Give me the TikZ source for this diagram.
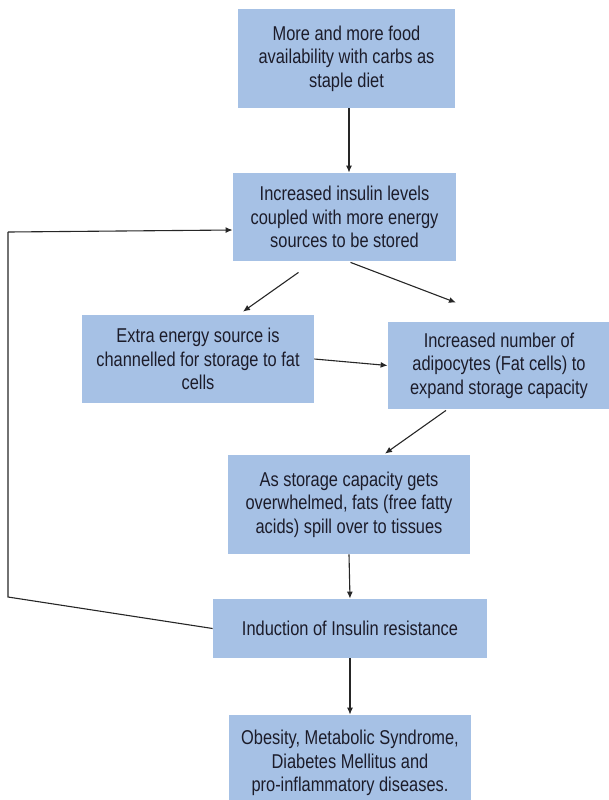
\documentclass[tikz,border=0pt]{standalone}
\usepackage{fontspec}
\setmainfont{Liberation Sans}[FakeStretch=0.82]
\usetikzlibrary{calc,arrows.meta}
\definecolor{boxblue}{RGB}{166,193,229}
\definecolor{inkdark}{RGB}{28,28,42}
\tikzset{
  flowbox/.style={fill=boxblue, draw=none, align=center, inner sep=0pt,
    text=inkdark, font=\fontsize{10}{11.75}\selectfont},
  flowarrow/.style={draw=black!85, line width=0.55pt, -{Latex[length=3.5pt,width=3pt]}},
  loopline/.style={draw=black!85, line width=0.55pt},
}

\begin{document}
\begin{tikzpicture}[x=0.5pt,y=-0.5pt]
    \useasboundingbox (0,0) rectangle (609,800);
    \clip (0,0) rectangle (609,800);

    % boxes
    \node[flowbox, minimum width=108.5pt, minimum height=49.5pt] (food) at (346.5,58.5)
        {More and more food\\availability with carbs as\\staple diet};
    \node[flowbox, minimum width=111.5pt, minimum height=44pt] (insulin) at (344.5,217)
        {Increased insulin levels\\coupled with more energy\\sources to be stored};
    \node[flowbox, minimum width=116pt, minimum height=44pt] (extra) at (198,359)
        {Extra energy source is\\channelled for storage to fat\\cells};
    \node[flowbox, minimum width=111pt, minimum height=43.5pt] (adipo) at (499,365.5)
        {Increased number of\\adipocytes (Fat cells) to\\expand storage capacity};
    \node[flowbox, minimum width=121pt, minimum height=49.5pt] (spill) at (349,504.5)
        {As storage capacity gets\\overwhelmed, fats (free fatty\\acids) spill over to tissues};
    \node[flowbox, minimum width=137pt, minimum height=29.5pt] (resist) at (350,628.5)
        {Induction of Insulin resistance};
    \node[flowbox, minimum width=121pt, minimum height=48pt] (disease) at (350,763)
        {Obesity, Metabolic Syndrome,\\Diabetes Mellitus and\\pro-inflammatory diseases.};

    % arrows
    \draw[flowarrow] ($(food.south)+(2.5,0)$) -- ($(insulin.north)+(4.5,0)$);
    \draw[flowarrow] ($(insulin.south)+(-46,11)$) -- ($(extra.north)+(45,-3)$);
    \draw[flowarrow] ($(insulin.south)+(6,1)$) -- ($(adipo.north)+(-43,-19)$);
    \draw[flowarrow] (extra.east) -- (adipo.west);
    \draw[flowarrow] ($(adipo.south)+(-53,1)$) -- ($(spill.north)+(36,-1)$);
    \draw[flowarrow] (spill.south) -- (resist.north);
    \draw[flowarrow] (resist.south) -- (disease.north);

    % feedback loop
    \coordinate (loopbot) at (8,597);
    \coordinate (looptop) at (8,232);
    \draw[loopline] (resist.west) -- (loopbot) -- (looptop);
    \draw[flowarrow] (looptop) -- ($(insulin.west)+(0,13)$);
\end{tikzpicture}
\end{document}
